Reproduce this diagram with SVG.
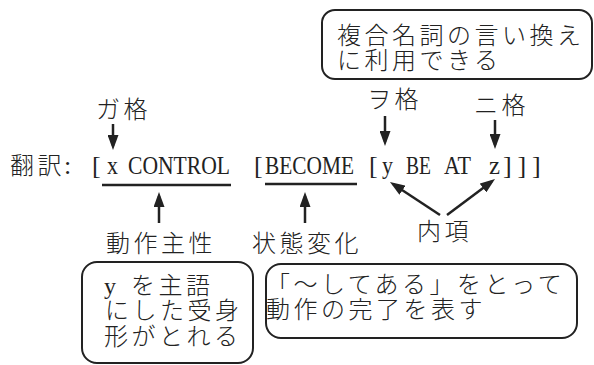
<svg xmlns="http://www.w3.org/2000/svg" width="594" height="365" viewBox="0 0 594 365">
<defs>
<style>
.cjk{font-family:"Noto Sans CJK JP","Liberation Serif",sans-serif;font-size:24px;font-weight:300;letter-spacing:3.5px;fill:#222}
.lat{font-family:"Liberation Serif","Noto Sans CJK JP",serif;font-size:26px;fill:#222}
.box{fill:#fff;stroke:#222;stroke-width:2}
.arr{stroke:#222;stroke-width:2.5;fill:none;marker-end:url(#ah)}
.ul{stroke:#222;stroke-width:2.5}
</style>
<marker id="ah" markerUnits="userSpaceOnUse" markerWidth="15" markerHeight="11" refX="11" refY="5.5" orient="auto">
<path d="M0,0 L15,5.5 L0,11 z" fill="#222"/>
</marker>
</defs>
<rect width="594" height="365" fill="#fff"/>

<g id="note-compound">
<rect class="box" x="322" y="10" width="270" height="69" rx="13"/>
<text class="cjk" x="337" y="44">複合名詞の言い換え</text>
<text class="cjk" x="337" y="69">に利用できる</text>
</g>

<g id="label-ga"><text class="cjk" x="96" y="118">ガ格</text></g>
<g id="label-wo"><text class="cjk" x="367" y="108">ヲ格</text></g>
<g id="label-ni"><text class="cjk" x="474" y="114">ニ格</text></g>

<g id="formula">
<text class="cjk" x="10" y="174">翻訳<tspan class="lat" x="64" style="letter-spacing:0">:</tspan></text>
<text class="lat" x="92" y="174">[</text>
<text class="lat" x="107" y="174" textLength="11" lengthAdjust="spacingAndGlyphs">x</text>
<text class="lat" x="128" y="174" textLength="102" lengthAdjust="spacingAndGlyphs">CONTROL</text>
<text class="lat" x="254" y="174">[</text>
<text class="lat" x="265" y="174" textLength="89" lengthAdjust="spacingAndGlyphs">BECOME</text>
<text class="lat" x="369" y="174">[</text>
<text class="lat" x="382" y="174" textLength="11" lengthAdjust="spacingAndGlyphs">y</text>
<text class="lat" x="406" y="174" textLength="25" lengthAdjust="spacingAndGlyphs">BE</text>
<text class="lat" x="444" y="174" textLength="27" lengthAdjust="spacingAndGlyphs">AT</text>
<text class="lat" x="489" y="174" textLength="11" lengthAdjust="spacingAndGlyphs">z</text>
<text class="lat" x="503" y="174" style="letter-spacing:5.8px">]]]</text>
</g>

<g id="label-agent"><text class="cjk" x="106" y="252">動作主性</text></g>
<g id="label-change"><text class="cjk" x="252" y="252">状態変化</text></g>
<g id="label-inner"><text class="cjk" x="417" y="240">内項</text></g>

<g id="note-passive">
<rect class="box" x="82" y="262" width="171" height="101" rx="15"/>
<text class="cjk" y="294"><tspan class="lat" x="104" style="letter-spacing:0;font-size:24px">y</tspan><tspan x="131">を主語</tspan></text>
<text class="cjk" x="105" y="319">にした受身</text>
<text class="cjk" x="104" y="345">形がとれる</text>
</g>

<g id="note-perfect">
<rect class="box" x="266" y="264" width="311" height="74" rx="15"/>
<text class="cjk" x="266" y="293">「～してある」をとって</text>
<text class="cjk" x="266" y="318">動作の完了を表す</text>
</g>

<g id="connectors">
<line class="ul" x1="102" y1="185" x2="231" y2="185"/>
<line class="ul" x1="265" y1="184" x2="357" y2="184"/>
<line class="arr" x1="113" y1="124" x2="113" y2="146"/>
<line class="arr" x1="385" y1="116" x2="385" y2="142"/>
<line class="arr" x1="495" y1="120" x2="495" y2="145"/>
<line class="arr" x1="159" y1="223" x2="159" y2="196"/>
<line class="arr" x1="305" y1="223" x2="305" y2="196"/>
<line class="arr" x1="440" y1="215" x2="393.3" y2="184.2"/>
<line class="arr" x1="447" y1="215" x2="491.8" y2="181.4"/>
</g>
</svg>
